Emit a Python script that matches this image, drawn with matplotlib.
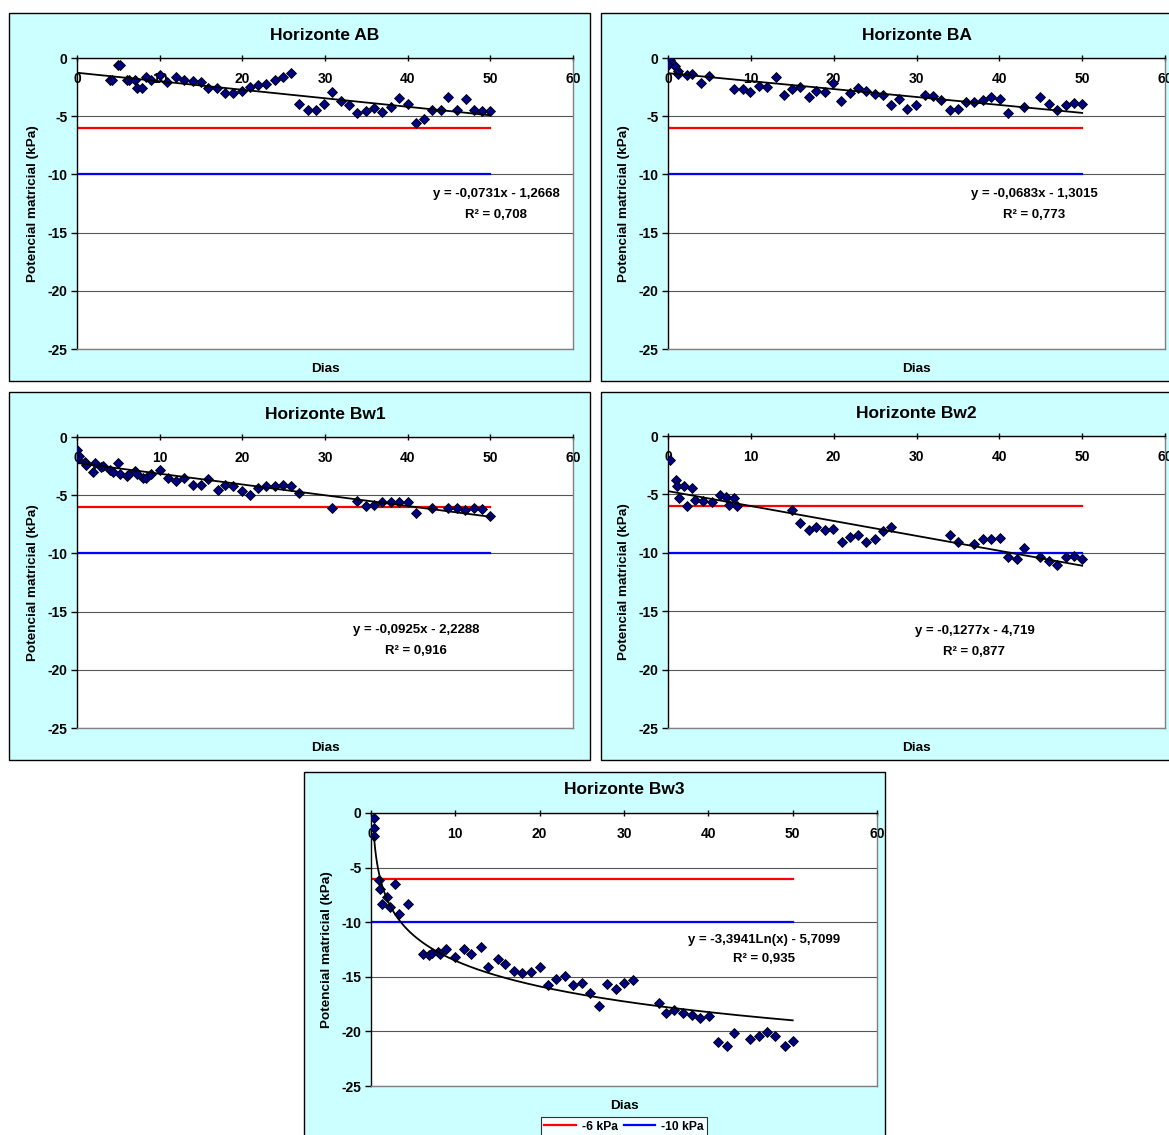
import matplotlib
matplotlib.use('Agg')
import matplotlib.pyplot as plt
import numpy as np
from matplotlib.patches import Rectangle

plt.rcParams['font.family'] = ['Liberation Sans', 'DejaVu Sans']
plt.rcParams['font.weight'] = 'bold'
plt.rcParams['axes.unicode_minus'] = False

# ---------------- data ----------------
ab_x = [4, 4.25, 5, 5.25, 6, 6.25, 7, 7.25, 7.9, 8.3, 9, 10, 10.9, 12, 13, 14, 15, 15.9, 16.95, 17.9,
        18.9, 19.9, 20.9, 21.9, 22.9, 23.9, 24.9, 25.9, 26.9, 27.9, 28.9, 29.9, 30.9, 31.9, 32.9, 33.9,
        34.9, 35.9, 36.95, 37.95, 38.95, 40.05, 41.05, 42, 43, 44, 44.9, 46, 47, 48, 49, 49.9]
ab_y = [-1.93, -1.93, -0.63, -0.63, -1.9, -1.9, -1.9, -2.56, -2.56, -1.67, -1.9, -1.44, -2.04, -1.67,
        -1.87, -2.01, -2.07, -2.56, -2.56, -2.99, -2.99, -2.84, -2.47, -2.3, -2.21, -1.93, -1.61, -1.29,
        -3.99, -4.48, -4.48, -3.97, -2.9, -3.68, -4.08, -4.71, -4.54, -4.31, -4.63, -4.17, -3.42, -3.91,
        -5.55, -5.23, -4.48, -4.48, -3.33, -4.48, -3.56, -4.48, -4.54, -4.54]

ba_x = [0.2, 0.05, 0.8, 1.15, 1.2, 2.35, 2.95, 3.95, 4.95, 7.95, 9, 9.95, 11, 12, 13, 14, 15, 15.9, 17,
        17.9, 18.9, 19.9, 20.9, 21.95, 22.9, 23.95, 25, 26, 26.95, 27.9, 28.9, 29.9, 31, 31.95, 33, 34,
        35, 36, 37, 38, 39, 40.1, 41.1, 43, 44.85, 46, 47, 48, 49, 50]
ba_y = [-0.14, -0.56, -0.7, -1.1, -1.35, -1.44, -1.36, -2.15, -1.58, -2.68, -2.68, -2.88, -2.37, -2.46,
        -1.64, -3.14, -2.68, -2.46, -3.31, -2.8, -2.88, -2.15, -3.67, -3.02, -2.54, -2.8, -3.1, -3.22,
        -4.01, -3.56, -4.35, -4.07, -3.19, -3.28, -3.59, -4.49, -4.35, -3.81, -3.81, -3.62, -3.31, -3.56,
        -4.75, -4.18, -3.31, -3.95, -4.46, -4.01, -3.84, -3.95]

bw1_x = [0, 0.2, 0.05, 1.0, 1.1, 1.95, 2.2, 2.95, 3.2, 4.0, 4.3, 4.95, 5.25, 6, 6.3, 7, 7.25, 8, 8.3, 9,
         10, 11, 12, 13, 14, 15, 15.9, 17, 17.9, 18.9, 19.9, 20.9, 21.9, 22.9, 23.9, 24.9, 25.9, 26.9,
         30.9, 33.9, 34.9, 35.9, 36.9, 37.95, 38.95, 40.05, 41.05, 43, 44.85, 46, 46.95, 48, 49, 49.9]
bw1_y = [-1.09, -1.67, -1.9, -2.16, -2.39, -3.02, -2.21, -2.59, -2.53, -2.87, -3.02, -2.21, -3.22, -3.33,
         -3.22, -2.93, -3.22, -3.51, -3.51, -3.22, -2.82, -3.48, -3.74, -3.48, -4.11, -4.11, -3.62, -4.54,
         -4.11, -4.2, -4.6, -4.97, -4.34, -4.17, -4.17, -4.11, -4.17, -4.77, -6.12, -5.46, -5.95, -5.86,
         -5.6, -5.6, -5.6, -5.6, -6.49, -6.09, -6.09, -6.09, -6.29, -6.09, -6.18, -6.81]

bw2_x = [0.2, 0.95, 1.1, 1.95, 1.3, 2.3, 2.95, 3.3, 4.25, 5.3, 6.3, 7, 7.35, 8, 8.35, 15, 15.9, 17, 17.9,
         18.9, 19.9, 20.95, 21.95, 22.9, 23.95, 25, 26, 26.95, 34, 35, 37, 38, 39, 40.1, 41.1, 42.1, 43,
         44.95, 46, 47, 48, 49, 50]
bw2_y = [-2.04, -3.75, -4.26, -4.26, -5.31, -6.03, -4.46, -5.51, -5.54, -5.68, -5.06, -5.23, -5.88, -5.31,
         -5.97, -6.34, -7.45, -8.08, -7.76, -8.05, -7.93, -9.1, -8.65, -8.48, -9.05, -8.79, -8.16, -7.76,
         -8.48, -9.1, -9.27, -8.85, -8.79, -8.71, -10.38, -10.53, -9.59, -10.38, -10.67, -11.07, -10.38,
         -10.3, -10.53]

bw3_x = [0.3, 0.3, 0.35, 0.9, 1.1, 1.9, 2.85, 1.35, 2.3, 3.35, 4.35, 6.15, 6.9, 7.2, 8.0, 8.2, 8.95, 10,
         11, 11.9, 13, 13.9, 15, 15.9, 17, 17.9, 19, 20, 20.95, 21.95, 22.95, 24, 25, 26, 27, 28, 29,
         30.05, 31.05, 34.1, 35, 35.95, 37, 38.05, 39.05, 40.1, 41.1, 42.2, 43.1, 44.9, 46, 47, 47.95,
         49.05, 50.05]
bw3_y = [-0.49, -1.33, -2.1, -6.13, -6.96, -7.66, -6.54, -8.36, -8.64, -9.29, -8.3, -12.94, -13.03, -12.85,
         -12.77, -12.9, -12.43, -13.16, -12.43, -12.9, -12.26, -14.1, -13.37, -13.86, -14.47, -14.62,
         -14.53, -14.1, -15.72, -15.23, -14.93, -15.78, -15.6, -16.46, -17.67, -15.66, -16.09, -15.54,
         -15.29, -17.37, -18.3, -18.04, -18.3, -18.54, -18.8, -18.6, -20.97, -21.34, -20.18, -20.67,
         -20.46, -20.1, -20.46, -21.34, -20.88]

titles = ['Horizonte AB', 'Horizonte BA', 'Horizonte Bw1', 'Horizonte Bw2', 'Horizonte Bw3']
equations = ['y = -0,0731x - 1,2668', 'y = -0,0683x - 1,3015', 'y = -0,0925x - 2,2288',
             'y = -0,1277x - 4,719', 'y = -3,3941Ln(x) - 5,7099']
r2_labels = ['R² = 0,708', 'R² = 0,773', 'R² = 0,916', 'R² = 0,877', 'R² = 0,935']
coef_a = [-0.0731, -0.0683, -0.0925, -0.1277, -3.3941]
coef_b = [-1.2668, -1.3015, -2.2288, -4.719, -5.7099]
ref_levels = [-6, -10]
ref_labels = ['-6 kPa', '-10 kPa']
x_ticks = [0, 10, 20, 30, 40, 50, 60]
y_ticks = [0, -5, -10, -15, -20, -25]

# ---------------- layout (pixels) ----------------
W, H = 1169, 1135
fig = plt.figure(figsize=(W / 100, H / 100), dpi=100)
fig.patch.set_facecolor('white')

frames = [(9, 13, 590, 381), (601, 13, 1180, 381), (9, 392, 590, 760), (601, 392, 1180, 760),
          (304, 772, 885, 1150)]
plots = [(77, 58, 573, 349), (668, 58, 1165, 349), (77, 437, 573, 728), (668, 436, 1165, 728),
         (371, 813, 877, 1086)]
eq_pos = [(50.7, -11.7), (44.2, -11.7), (41.0, -16.6), (37.0, -16.7), (46.6, -11.6)]
datasets = [(ab_x, ab_y), (ba_x, ba_y), (bw1_x, bw1_y), (bw2_x, bw2_y), (bw3_x, bw3_y)]
kinds = ['lin', 'lin', 'lin', 'lin', 'log']

for i in range(5):
    fx0, fy0, fx1, fy1 = frames[i]
    fig.add_artist(Rectangle((fx0 / W, 1 - fy1 / H), (fx1 - fx0) / W, (fy1 - fy0) / H,
                             transform=fig.transFigure, facecolor='#CCFFFF', edgecolor='black',
                             linewidth=1.0, zorder=0))
    px0, py0, px1, py1 = plots[i]
    ax = fig.add_axes([px0 / W, 1 - py1 / H, (px1 - px0) / W, (py1 - py0) / H])
    ax.set_facecolor('white')
    ax.set_xlim(0, 60)
    ax.set_ylim(-25, 0)
    ax.set_xticks(x_ticks)
    ax.set_yticks(y_ticks)
    ax.yaxis.grid(True, color='#555555', linewidth=0.8)
    ax.set_axisbelow(True)
    for s in ['top', 'left']:
        ax.spines[s].set_color('black')
        ax.spines[s].set_linewidth(1.0)
    for s in ['right', 'bottom']:
        ax.spines[s].set_color('#808080')
        ax.spines[s].set_linewidth(1.0)
    ax.xaxis.tick_top()
    ax.tick_params(axis='x', direction='inout', length=5, pad=-23, labelsize=10, width=1)
    ax.tick_params(axis='y', direction='out', length=4, labelsize=10, width=1, pad=3)
    ax.xaxis.set_label_position('bottom')
    ax.set_xlabel('Dias', fontsize=9.7, fontweight='bold', labelpad=10)
    ax.set_ylabel('Potencial matricial (kPa)', fontsize=9.7, fontweight='bold', labelpad=6)

    ax.text(0.5, 1 + 23 / (py1 - py0), titles[i], transform=ax.transAxes, ha='center', va='center',
            fontsize=12.5, fontweight='bold')

    lines = []
    for lev, col, lab in zip(ref_levels, ['#FF0000', '#0000FF'], ref_labels):
        ln, = ax.plot([0, 50], [lev, lev], color=col, linewidth=1.6, label=lab, zorder=2)
        lines.append(ln)

    xs, ys = datasets[i]
    ax.plot(xs, ys, linestyle='none', marker='D', markersize=5.5, markerfacecolor='#000080',
            markeredgecolor='black', markeredgewidth=0.6, zorder=3)

    if kinds[i] == 'lin':
        tx = np.linspace(0, 50, 2)
        ty = coef_a[i] * tx + coef_b[i]
    else:
        tx = np.linspace(0.35, 50, 400)
        ty = coef_a[i] * np.log(tx) + coef_b[i]
    ax.plot(tx, ty, color='black', linewidth=1.3, zorder=4)

    ex, ey = eq_pos[i]
    ax.text(ex, ey, equations[i], ha='center', va='center', fontsize=9.5, fontweight='bold')
    ax.text(ex, ey - 1.8, r2_labels[i], ha='center', va='center', fontsize=9.5, fontweight='bold')

    if i == 4:
        leg = ax.legend(lines, ref_labels, loc='upper center', bbox_to_anchor=(624 / W, 1 - 1117 / H),
                        bbox_transform=fig.transFigure, ncol=2, frameon=True, fancybox=False,
                        edgecolor='black', fontsize=8.7, handlelength=2.6, columnspacing=0.5,
                        handletextpad=0.5, borderpad=0.3, borderaxespad=0)
        leg.get_frame().set_linewidth(0.8)
        leg.get_frame().set_facecolor('white')
        for t in leg.get_texts():
            t.set_fontweight('bold')

fig.savefig('out.png', dpi=100)
